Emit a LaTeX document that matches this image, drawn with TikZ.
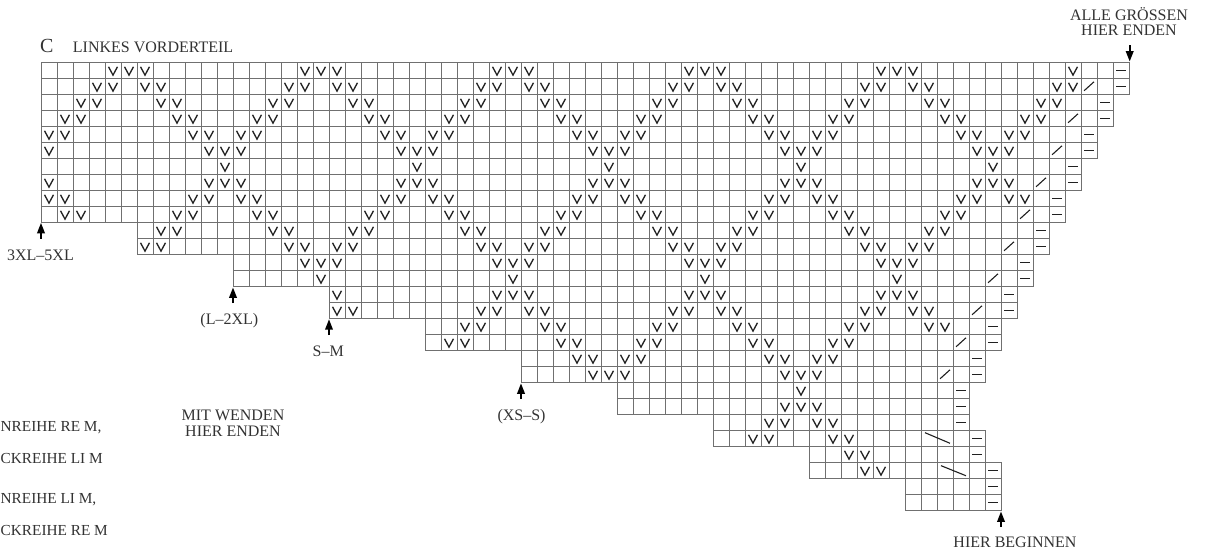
\documentclass[tikz,border=0pt]{standalone}
\usepackage{fontspec}
\setmainfont{Liberation Serif}
\usetikzlibrary{arrows.meta}
\definecolor{gridgray}{RGB}{112,112,112}
\definecolor{markblack}{RGB}{32,32,32}
\definecolor{txtgray}{RGB}{50,50,50}
\begin{document}
\begin{tikzpicture}[x=1pt,y=-1pt,
  gridline/.style={draw=gridgray,line width=0.95pt},
  vmark/.style={draw=markblack,line width=1.3pt,line join=miter},
  dashmark/.style={draw=markblack,line width=1.5pt},
  slashmark/.style={draw=markblack,line width=1.1pt},
  lbl/.style={font=\fontsize{16}{18}\selectfont,text=txtgray,inner sep=0pt},
  keylbl/.style={lbl,font=\fontsize{15.3}{18}\selectfont,anchor=base west},
  ptr/.style={-{Triangle[length=10.5pt,width=7.5pt]},line width=2pt,draw=black}
]
\useasboundingbox (0,0) rectangle (1205,551);

% ---------- chart ----------
\begin{scope}[shift={(41,62.3)},x=16pt,y=-16pt]
  % grid cells and edge stitches
  \foreach \rw/\lo/\hi in {0/0/67,1/0/67,2/0/66,3/0/66,4/0/65,5/0/65,6/0/64,7/0/64,
      8/0/63,9/0/63,10/6/62,11/6/62,12/12/61,13/12/61,14/18/60,15/18/60,
      16/24/59,17/24/59,18/30/58,19/30/58,20/36/57,21/36/57,22/42/57,23/42/58,
      24/48/58,25/48/59,26/54/59,27/54/59}{
    \draw[gridline] \foreach \cc in {\lo,...,\hi} {(\cc,\rw) rectangle ++(1,1)};
    \draw[dashmark] (\hi+0.21,\rw+0.52) -- (\hi+0.79,\rw+0.52);
  }
  % slipped stitches (V)
  \foreach \rw/\cols in {
    0/{4,5,6,16,17,18,28,29,30,40,41,42,52,53,54,64},
    1/{3,4,6,7,15,16,18,19,27,28,30,31,39,40,42,43,51,52,54,55,63,64},
    2/{2,3,7,8,14,15,19,20,26,27,31,32,38,39,43,44,50,51,55,56,62,63},
    3/{1,2,8,9,13,14,20,21,25,26,32,33,37,38,44,45,49,50,56,57,61,62},
    4/{0,1,9,10,12,13,21,22,24,25,33,34,36,37,45,46,48,49,57,58,60,61},
    5/{0,10,11,12,22,23,24,34,35,36,46,47,48,58,59,60},
    6/{11,23,35,47,59},
    7/{0,10,11,12,22,23,24,34,35,36,46,47,48,58,59,60},
    8/{0,1,9,10,12,13,21,22,24,25,33,34,36,37,45,46,48,49,57,58,60,61},
    9/{1,2,8,9,13,14,20,21,25,26,32,33,37,38,44,45,49,50,56,57},
    10/{7,8,14,15,19,20,26,27,31,32,38,39,43,44,50,51,55,56},
    11/{6,7,15,16,18,19,27,28,30,31,39,40,42,43,51,52,54,55},
    12/{16,17,18,28,29,30,40,41,42,52,53,54},
    13/{17,29,41,53},
    14/{18,28,29,30,40,41,42,52,53,54},
    15/{18,19,27,28,30,31,39,40,42,43,51,52,54,55},
    16/{26,27,31,32,38,39,43,44,50,51,55,56},
    17/{25,26,32,33,37,38,44,45,49,50},
    18/{33,34,36,37,45,46,48,49},
    19/{34,35,36,46,47,48},
    20/{47},
    21/{46,47,48},
    22/{45,46,48,49},
    23/{44,45,49,50},
    24/{50,51},
    25/{51,52}}{
    \foreach \cc in \cols {
      \draw[vmark] (\cc+0.22,\rw+0.28) -- (\cc+0.5,\rw+0.8) -- (\cc+0.78,\rw+0.28);
    }
  }
  % decreases
  \foreach \rw/\cc in {1/65,3/64,5/63,7/62,9/61,11/60,13/59,15/58,17/57,19/56}{
    \draw[slashmark] (\cc+0.19,\rw+0.78) -- (\cc+0.81,\rw+0.22);
  }
  \draw[slashmark] (55.25,23.15) -- (56.81,23.81);
  \draw[slashmark] (56.25,25.21) -- (57.81,25.84);
\end{scope}

% ---------- titles ----------
\node[lbl,font=\fontsize{20}{22}\selectfont,anchor=base] (cletter) at (46.7,52.7) {C};
\node[lbl,anchor=base west] (title) at (72.7,52.7) {LINKES VORDERTEIL};

% ---------- size markers ----------
\node[lbl,anchor=base] (alle1) at (1129,20.7) {ALLE GRÖSSEN};
\node[lbl,anchor=base] (alle2) at (1129,36) {HIER ENDEN};
\coordinate (alleT) at (1129.7,45.5);
\coordinate (alleH) at (1129.7,61.6);
\draw[ptr] (alleT) -- (alleH);

\node[lbl,anchor=base] (s3xl) at (40.5,260) {3XL–5XL};
\coordinate (s3xlT) at (41,238.7);
\coordinate (s3xlH) at (41,222.8);
\draw[ptr] (s3xlT) -- (s3xlH);

\node[lbl,anchor=base] (sl2xl) at (229.3,324.3) {(L–2XL)};
\coordinate (sl2xlT) at (233,303);
\coordinate (sl2xlH) at (233,287.4);
\draw[ptr] (sl2xlT) -- (sl2xlH);

\node[lbl,anchor=base] (ssm) at (328.2,356) {S–M};
\coordinate (ssmT) at (329,335);
\coordinate (ssmH) at (329,319.2);
\draw[ptr] (ssmT) -- (ssmH);

\node[lbl,anchor=base] (sxss) at (521.5,420) {(XS–S)};
\coordinate (sxssT) at (521,399);
\coordinate (sxssH) at (521,383.3);
\draw[ptr] (sxssT) -- (sxssH);

\node[lbl,anchor=base] (begin) at (1015,547.7) {HIER BEGINNEN};
\coordinate (beginT) at (1001,527);
\coordinate (beginH) at (1001,511.4);
\draw[ptr] (beginT) -- (beginH);

\node[lbl,anchor=base] (wend1) at (233,420) {MIT WENDEN};
\node[lbl,anchor=base] (wend2) at (233,436) {HIER ENDEN};

% ---------- key (starting at the left edge) ----------
\node[keylbl] (key1) at (0.5,431.7) {NREIHE RE M,};
\node[keylbl] (key2) at (0.5,463.3) {CKREIHE LI M};
\node[keylbl] (key3) at (0.5,503.3) {NREIHE LI M,};
\node[keylbl] (key4) at (0.5,535) {CKREIHE RE M};
\end{tikzpicture}
\end{document}
